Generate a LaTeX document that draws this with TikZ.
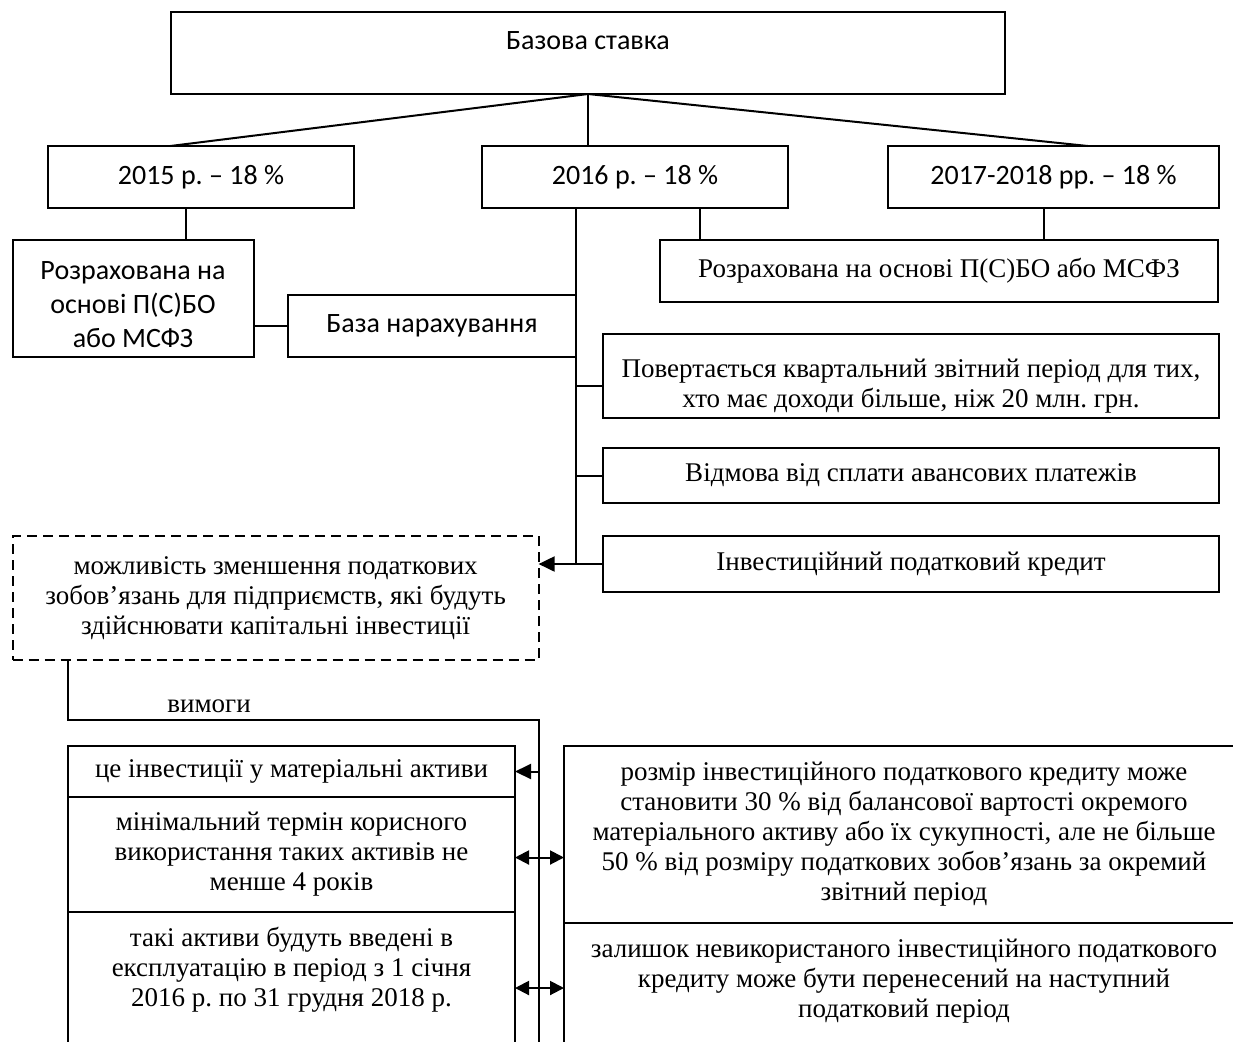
\documentclass[tikz,border=0pt]{standalone}
\usepackage{fontspec}
\setmainfont{Liberation Serif}
\newfontfamily\calfont{Carlito}
\usetikzlibrary{arrows.meta, positioning, calc}
\frenchspacing

\begin{document}
\begin{tikzpicture}[
        x=0.5pt, y=-0.5pt,
        block/.style={rectangle, draw, line width=1pt, align=center, inner sep=2pt, outer sep=0pt, font=\fontsize{13.5}{15}\selectfont},
        cblock/.style={block, font=\calfont\fontsize{14}{17}\selectfont},
        dblock/.style={block, dash pattern=on 5pt off 3pt},
        line/.style={draw, line width=1pt},
        arrow/.style={line, -{Triangle[length=8pt, width=7.5pt]}},
        twoway/.style={line, {Triangle[length=7pt, width=7pt]}-{Triangle[length=7pt, width=7pt]}},
        tag/.style={font=\fontsize{13.5}{15}\selectfont, inner sep=3pt}
    ]
    \useasboundingbox (0,0) rectangle (1233,1041);
    \clip (0,0) rectangle (1233,1041);

    % rate and periods
    \node [cblock, minimum width=417pt, minimum height=41pt] (rate) at (588,53) {Базова ставка\rule[-12pt]{0pt}{0pt}};
    \node [cblock, minimum width=153pt, minimum height=31pt] (y2015) at (201,177) {2015 р. – 18 \%};
    \node [cblock, minimum width=153pt, minimum height=31pt] (y2016) at (635,177) {2016 р. – 18 \%};
    \node [cblock, minimum width=165.5pt, minimum height=31pt] (y2017) at (1053.5,177) {2017-2018 рр. – 18 \%};

    \node [cblock, minimum width=120.5pt, minimum height=58.5pt] (calcL) at (133,298.5) {\rule{0pt}{15.5pt}Розрахована на\\ основі П(С)БО\\ або МСФЗ};
    \node [cblock, minimum width=144pt, minimum height=31pt] (baseN) at (432,326) {База нарахування};
    \node [block, minimum width=279pt, minimum height=31pt] (calcR) at (939,271) {Розрахована на основі П(С)БО або МСФЗ};

    % 2016 changes
    \node [block, minimum width=308pt, minimum height=42pt] (quart) at (911,376) {\rule{0pt}{19pt}Повертається квартальний звітний період для тих,\\ хто має доходи більше, ніж 20 млн. грн.};
    \node [block, minimum width=308pt, minimum height=27.5pt] (skip) at (911,475.5) {Відмова від сплати авансових платежів};
    \node [block, minimum width=308pt, minimum height=28pt] (invest) at (911,564) {Інвестиційний податковий кредит};
    \node [dblock, minimum width=263pt, minimum height=62pt] (possib) at (275.6,598) {можливість зменшення податкових\\ зобов’язань для підприємств, які будуть\\ здійснювати капітальні інвестиції};

    % requirements
    \node [block, minimum width=223.5pt, minimum height=25.5pt] (req1) at (291.5,771.5) {це інвестиції у матеріальні активи};
    \node [block, minimum width=223.5pt, minimum height=57.5pt, below=0pt of req1] (req2) {мінімальний термін корисного\\ використання таких активів не\\ менше 4 років};
    \node [block, minimum width=223.5pt, text depth=80pt, inner ysep=7.5pt, below=0pt of req2] (req3) {такі активи будуть введені в\\ експлуатацію в період з 1 січня\\ 2016 р. по 31 грудня 2018 р.};
    \node [block, minimum width=340pt, minimum height=88.5pt] (cond1) at (904,834.5) {розмір інвестиційного податкового кредиту може\\ становити 30 \% від балансової вартості окремого\\ матеріального активу або їх сукупності, але не більше\\ 50 \% від розміру податкових зобов’язань за окремий\\ звітний період};
    \node [block, minimum width=340pt, text depth=80pt, inner ysep=8pt, below=0pt of cond1] (cond2) {залишок невикористаного інвестиційного податкового\\ кредиту може бути перенесений на наступний\\ податковий період};

    % fan from the rate
    \coordinate (f15) at ($(y2015.north west)!0.4!(y2015.north east)$);
    \coordinate (f17) at ($(y2017.north west)!0.604!(y2017.north east)$);
    \path [line] (rate.south) -- (f15);
    \path [line] (rate.south) -- (rate.south |- y2016.north);
    \path [line] (rate.south) -- (f17);

    \coordinate (c15) at ($(y2015.south west)!0.45!(y2015.south east)$);
    \path [line] (c15) -- (c15 |- calcL.north);
    \path [line] (baseN.west) -- (baseN.west -| calcL.east);

    \coordinate (r16) at ($(y2016.south west)!0.714!(y2016.south east)$);
    \coordinate (r17) at ($(y2017.south west)!0.471!(y2017.south east)$);
    \path [line] (r16) -- (r16 |- calcR.north);
    \path [line] (r17) -- (r17 |- calcR.north);

    % spine of 2016
    \coordinate (s16) at ($(y2016.south west)!0.307!(y2016.south east)$);
    \coordinate (qin) at ($(quart.west)+(0,10)$);
    \path [line] (s16) -- (s16 |- invest.west);
    \path [line] (s16 |- qin) -- (qin);
    \path [line] (s16 |- skip.west) -- (skip.west);
    \path [arrow] (invest.west) -- (invest.west -| possib.east);

    % requirements line
    \coordinate (p0) at ($(possib.south west)!0.105!(possib.south east)$);
    \coordinate (rq) at ($(p0)+(0,60)$);
    \coordinate (rqEnd) at ($(rq -| possib.east)+(0,340)$);
    \path [line] (p0) -- (rq) -- node[tag, above, pos=0.3] {вимоги} (rq -| possib.east) -- (rqEnd);

    \coordinate (a3) at ($(req3.north east)+(0,76)$);
    \path [arrow] (req1.east -| rqEnd) -- (req1.east);
    \path [twoway] ($(req2.east)+(0,3)$) -- ($(req2.east -| cond1.west)+(0,3)$);
    \path [twoway] (a3) -- (a3 -| cond2.west);
\end{tikzpicture}
\end{document}
